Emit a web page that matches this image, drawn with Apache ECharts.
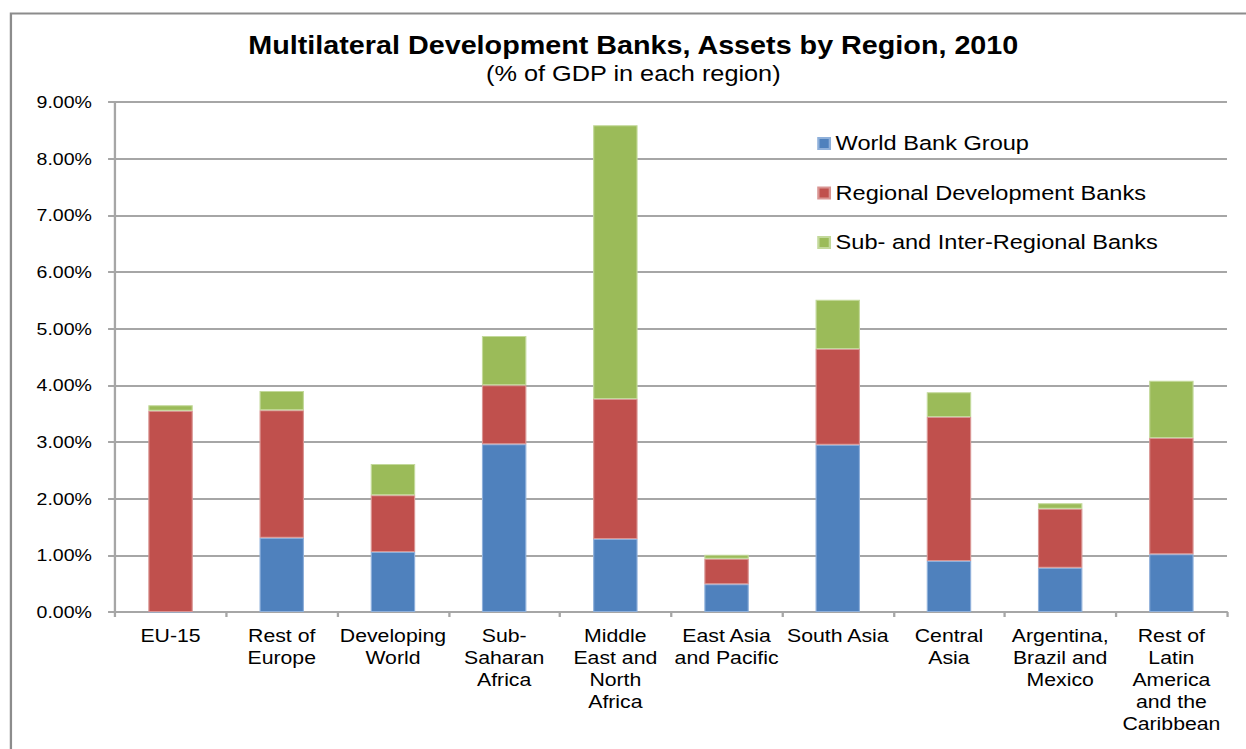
<!DOCTYPE html>
<html>
<head>
<meta charset="utf-8">
<script src="https://cdn.jsdelivr.net/npm/echarts@6/dist/echarts.min.js"></script>
<style>
  html, body { margin: 0; padding: 0; background: #fff; overflow: hidden; }
  /* The chart is laid out narrower and widened horizontally, giving the wide-set lettering of the original graphic */
  #chart { width: 1084px; height: 749px; transform: scaleX(1.1494); transform-origin: 0 0; }
</style>
</head>
<body>
<div id="chart"></div>
<script>
// Regions (x-axis categories)
const regions = [
  'EU-15',
  'Rest of\nEurope',
  'Developing\nWorld',
  'Sub-\nSaharan\nAfrica',
  'Middle\nEast and\nNorth\nAfrica',
  'East Asia\nand Pacific',
  'South Asia',
  'Central\nAsia',
  'Argentina,\nBrazil and\nMexico',
  'Rest of\nLatin\nAmerica\nand the\nCaribbean'
];

// Assets as % of regional GDP, stacked by lender type
const worldBankGroup   = [0.00, 1.31, 1.06, 2.96, 1.29, 0.49, 2.95, 0.90, 0.78, 1.02];
const regionalBanks    = [3.55, 2.25, 1.00, 1.04, 2.47, 0.45, 1.69, 2.54, 1.04, 2.05];
const subInterRegional = [0.10, 0.34, 0.55, 0.87, 4.83, 0.07, 0.87, 0.44, 0.10, 1.01];

const seriesNames = ['World Bank Group', 'Regional Development Banks', 'Sub- and Inter-Regional Banks'];
const seriesColors = ['#4f81bd', '#c0504d', '#9bbb59'];
const seriesEdges  = ['#8fb0da', '#d99593', '#c3d99b'];
const seriesData = [worldBankGroup, regionalBanks, subInterRegional];

const yMin = 0, yMax = 9, yStep = 1;

const chart = echarts.init(document.getElementById('chart'), null, { renderer: 'svg' });

const gridColor = '#a6a6a6';
const labelFont = "'Liberation Sans', Arial, sans-serif";

chart.setOption({
  animation: false,
  backgroundColor: '#ffffff',
  graphic: [{
    type: 'rect',
    left: 7, top: 11,
    shape: { width: 1400, height: 900 },
    style: { fill: 'none', stroke: '#8c8c8c', lineWidth: 2 },
    silent: true, z: -1
  }],
  title: [{
    text: 'Multilateral Development Banks, Assets by Region, 2010',
    left: 551, top: 33, textAlign: 'center', padding: 0,
    textStyle: { fontFamily: labelFont, fontWeight: 'bold', fontSize: 25, color: '#000' }
  }, {
    text: '(% of GDP in each region)',
    left: 551, top: 63, textAlign: 'center', padding: 0,
    textStyle: { fontFamily: labelFont, fontWeight: 'normal', fontSize: 22, color: '#000' }
  }],
  legend: {
    orient: 'vertical',
    left: 711, top: 133, padding: 0,
    itemWidth: 10, itemHeight: 11,
    itemGap: 28.5,
    icon: 'rect',
    textStyle: { fontFamily: labelFont, fontSize: 20.5, lineHeight: 20, color: '#000' },
    data: seriesNames
  },
  grid: { left: 100, right: 16.5, top: 102, bottom: 137, containLabel: false },
  xAxis: {
    type: 'category',
    data: regions,
    axisLine: { lineStyle: { color: gridColor, width: 2 } },
    axisTick: { show: true, length: 5, lineStyle: { color: gridColor, width: 2 } },
    axisLabel: {
      interval: 0, margin: 13,
      fontFamily: labelFont, fontSize: 18.5, lineHeight: 22, color: '#000', align: 'center'
    }
  },
  yAxis: {
    type: 'value',
    min: yMin, max: yMax, interval: yStep,
    axisLine: { show: true, lineStyle: { color: gridColor, width: 2 } },
    axisTick: { show: true, length: 6, lineStyle: { color: gridColor, width: 2 } },
    splitLine: { show: true, lineStyle: { color: gridColor, width: 2 } },
    axisLabel: {
      margin: 20,
      fontFamily: labelFont, fontSize: 17, color: '#000',
      formatter: v => v.toFixed(2) + '%'
    }
  },
  series: seriesData.map((d, i) => ({
    name: seriesNames[i],
    type: 'bar',
    stack: 'assets',
    barWidth: '40%',
    data: d,
    itemStyle: { color: seriesColors[i], borderColor: seriesEdges[i], borderWidth: 1 }
  }))
});
</script>
</body>
</html>
